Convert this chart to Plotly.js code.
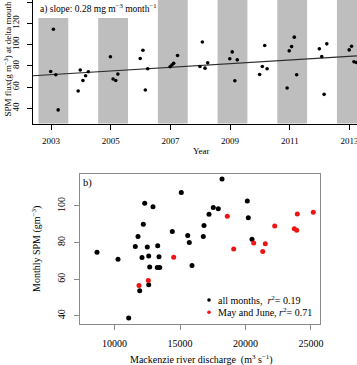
<!DOCTYPE html>
<html>
<head>
<meta charset="utf-8">
<script src="https://cdn.plot.ly/plotly-3.0.1.min.js"></script>
<style>
  html, body { margin: 0; padding: 0; overflow: hidden; background: #fff; width: 357px; height: 365px; }
  #chart { position: absolute; left: 0; top: -4px; width: 372px; height: 369px; }
</style>
</head>
<body>
<div id="chart"></div>
<script>
// ---- a) monthly SPM flux at the delta mouth ----
const fluxTime = [
  2002.99, 2003.08, 2003.16, 2003.24,
  2003.91, 2003.98, 2004.07, 2004.16, 2004.25,
  2004.99, 2005.08, 2005.17, 2005.24,
  2005.99, 2006.08, 2006.16, 2006.24,
  2006.99, 2007.05, 2007.11, 2007.24,
  2007.99, 2008.07, 2008.16, 2008.25,
  2008.99, 2009.07, 2009.16, 2009.24,
  2009.99, 2010.08, 2010.16, 2010.24,
  2010.91, 2010.98, 2011.06, 2011.15, 2011.23,
  2011.99, 2012.07, 2012.15, 2012.24,
  2012.99, 2013.07, 2013.15, 2013.23
];
const fluxValue = [
  74.6, 114.5, 71.5, 38.4,
  56.2, 76.0, 66.2, 70.6, 74.4,
  88.5, 67.5, 66.2, 72.2,
  86.9, 94.7, 57.2, 77.2,
  79.1, 80.7, 82.3, 89.7,
  79.3, 102.5, 77.8, 82.8,
  86.6, 93.1, 65.9, 85.6,
  71.8, 79.3, 99.1, 77.2,
  59.1, 94.1, 98.1, 107.0, 71.5,
  96.0, 88.7, 53.1, 100.7,
  95.0, 98.5, 83.8, 83.1
];
// linear trend, evaluated at the ends of the time axis
const trendTime = [2002.397, 2013.25];
const trendValue = [70.6, 89.4];
// shaded alternate years (start of each shaded span, one year wide)
const bandStart = [2002.58, 2004.58, 2006.58, 2008.58, 2010.58, 2012.58];
const bandWidth = 1.0;
const yearTicks = [2003, 2005, 2007, 2009, 2011, 2013];
const fluxTicks = [40, 60, 80, 100, 120, 140];

// ---- b) monthly SPM against river discharge ----
const allQ = [
  8664, 10267, 11084, 11924, 11588, 11794, 12199, 12305, 12939, 12099,
  12504, 12611, 12611, 12687, 13298, 13397, 13267, 13451, 14412, 15099,
  15588, 15710, 15916, 18207, 16832, 16779, 17214, 17542, 17924, 20138,
  20214, 20497
];
const allSPM = [
  74.7, 70.9, 38.8, 53.6, 77.8, 83.3, 90.0, 101.5, 99.6, 71.8,
  77.5, 72.7, 56.9, 66.6, 78.3, 72.2, 66.3, 66.3, 86.0, 107.3,
  83.8, 80.0, 67.4, 114.7, 89.3, 83.3, 95.5, 99.1, 98.5, 102.7,
  93.6, 81.8
];
const mayJuneQ = [
  11870, 12580, 14519, 18611, 19100, 20627, 21512, 21314, 22230, 23726,
  23909, 23955, 25176
];
const mayJuneSPM = [
  56.5, 59.3, 72.0, 94.4, 76.5, 79.8, 79.4, 75.1, 89.1, 87.5,
  86.7, 95.6, 96.6
];
const dischargeTicks = [10000, 15000, 20000, 25000];
const spmTicks = [40, 60, 80, 100];
const legendLabels = ['all months,  <i>r</i><sup>2</sup>= 0.19', 'May and June, <i>r</i><sup>2</sup>= 0.71'];

// ---- page geometry helpers (pixel -> paper fraction) ----
const W = 372, H = 369, OFF = 4;
const fx = s => s / W;
const fy = s => 1 - (s + OFF) / H;

const SERIF = 'Liberation Serif, Times New Roman, serif';
const RED = '#ee1414';

const traces = [
  {
    x: trendTime, y: trendValue, xaxis: 'x', yaxis: 'y',
    mode: 'lines', line: { color: '#2b2b2b', width: 1.2 }, hoverinfo: 'skip'
  },
  {
    x: fluxTime, y: fluxValue, xaxis: 'x', yaxis: 'y',
    mode: 'markers', marker: { color: '#000', size: 3.6 }
  },
  {
    x: allQ, y: allSPM, xaxis: 'x2', yaxis: 'y2',
    mode: 'markers', marker: { color: '#000', size: 5 }
  },
  {
    x: mayJuneQ, y: mayJuneSPM, xaxis: 'x2', yaxis: 'y2',
    mode: 'markers', marker: { color: RED, size: 5 }
  }
];

const xRangeA = [2002.397, 2013.687];
const yRangeA = [25.6, 144.4];

const shapes = bandStart.map(s => ({
  type: 'rect', xref: 'x', yref: 'y domain',
  x0: s, x1: s + bandWidth, y0: 0, y1: 1,
  fillcolor: '#bebebe', line: { width: 0 }, layer: 'below'
}));
// white panel behind the slope label
shapes.push({
  type: 'rect', xref: 'x', yref: 'y',
  x0: xRangeA[0], x1: 2006.55, y0: 125.1, y1: yRangeA[1],
  fillcolor: '#ffffff', line: { width: 0 }, layer: 'below'
});
// legend dots for panel b
[[300, '#000'], [312.3, RED]].forEach(([sy, c]) => {
  shapes.push({
    type: 'circle', xref: 'paper', yref: 'paper',
    xsizemode: 'pixel', ysizemode: 'pixel',
    xanchor: fx(209), yanchor: fy(sy),
    x0: -1.8, x1: 1.8, y0: -1.8, y1: 1.8,
    fillcolor: c, line: { width: 0 }
  });
});

const annotations = [
  { text: 'a) slope: 0.28 mg m<sup>\u22123</sup> month<sup>\u22121</sup>', x: fx(37.5), y: fy(8.3),
    xanchor: 'left', yanchor: 'middle', font: { size: 9.5 } },
  { text: 'Year', x: fx(201.5), y: fy(150.7), xanchor: 'center', yanchor: 'middle', font: { size: 9 } },
  { text: 'SPM flux(g m<sup>\u22123</sup>) at delta mouth', x: fx(7.5), y: fy(59), textangle: -90,
    xanchor: 'center', yanchor: 'middle', font: { size: 9 } },
  { text: 'b)', x: fx(80.5), y: fy(182.5), xanchor: 'left', yanchor: 'middle', font: { size: 10.5 } },
  { text: 'Monthly SPM (gm<sup>\u22123</sup>)', x: fx(37), y: fy(249), textangle: -90,
    xanchor: 'center', yanchor: 'middle', font: { size: 10 } },
  { text: 'Mackenzie river discharge  (m<sup>3</sup> s<sup>\u22121</sup>)', x: fx(201.5), y: fy(359),
    xanchor: 'center', yanchor: 'middle', font: { size: 10 } },
  { text: legendLabels[0], x: fx(215.5), y: fy(300), xanchor: 'left', yanchor: 'middle', font: { size: 10 } },
  { text: legendLabels[1], x: fx(215.5), y: fy(312.3), xanchor: 'left', yanchor: 'middle', font: { size: 10 } }
].map(a => Object.assign({ xref: 'paper', yref: 'paper', showarrow: false }, a,
  { font: Object.assign({ family: SERIF, color: '#000' }, a.font) }));

const axisCommon = {
  showgrid: false, zeroline: false, showline: true, mirror: true,
  ticks: 'outside', ticklen: 5, tickwidth: 1
};

const layout = {
  width: W, height: H,
  margin: { l: 0, r: 0, t: 0, b: 0 },
  paper_bgcolor: '#ffffff', plot_bgcolor: '#ffffff',
  showlegend: false,
  font: { family: SERIF, color: '#000' },
  xaxis: Object.assign({}, axisCommon, {
    domain: [fx(33), fx(370)], anchor: 'y', range: xRangeA,
    tickmode: 'array', tickvals: yearTicks, ticktext: yearTicks.map(String),
    linecolor: '#000', tickcolor: '#000', linewidth: 1,
    tickfont: { family: SERIF, size: 9 }, ticklabelstandoff: 4
  }),
  yaxis: Object.assign({}, axisCommon, {
    domain: [fy(123.5), fy(-2.5)], anchor: 'x', range: yRangeA,
    tickmode: 'array', tickvals: fluxTicks, ticktext: fluxTicks.map(String), tickangle: -90,
    linecolor: '#000', tickcolor: '#000', linewidth: 1,
    tickfont: { family: SERIF, size: 9 }, ticklabelstandoff: 4
  }),
  xaxis2: Object.assign({}, axisCommon, {
    domain: [fx(79.7), fx(319.7)], anchor: 'y2', range: [7343, 25665],
    tickmode: 'array', tickvals: dischargeTicks, ticktext: dischargeTicks.map(String),
    linecolor: '#8a8a8a', tickcolor: '#8a8a8a', linewidth: 1,
    tickfont: { family: SERIF, size: 10 }, ticklabelstandoff: 5
  }),
  yaxis2: Object.assign({}, axisCommon, {
    domain: [fy(324), fy(174)], anchor: 'x2', range: [35.5, 117.45],
    tickmode: 'array', tickvals: spmTicks, ticktext: spmTicks.map(String), tickangle: -90,
    linecolor: '#8a8a8a', tickcolor: '#8a8a8a', linewidth: 1,
    tickfont: { family: SERIF, size: 10 }, ticklabelstandoff: 5
  }),
  shapes: shapes,
  annotations: annotations
};

Plotly.newPlot('chart', traces, layout, { staticPlot: true, displayModeBar: false });
</script>
</body>
</html>
